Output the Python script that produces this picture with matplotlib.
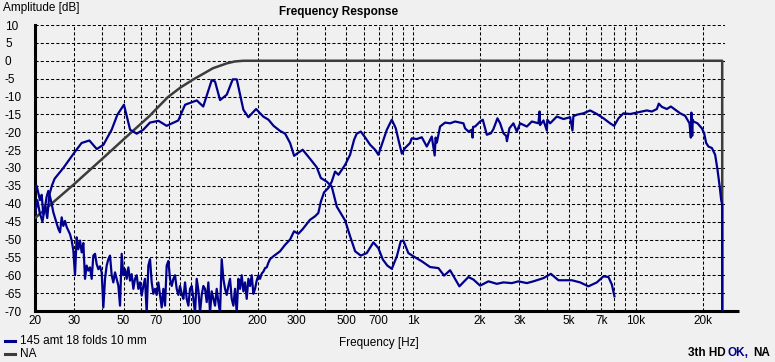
import numpy as np
import matplotlib
matplotlib.use('Agg')
import matplotlib.pyplot as plt
from matplotlib.lines import Line2D

# Curve A: low driver side (falls off above ~200 Hz)
a_freq = [20, 20.5, 21, 21.6, 22.2, 22.7, 23.2, 23.8, 24.5, 26.8, 30.2, 32.4, 35.1, 37.9,
          40.6, 44.2, 46.9, 50.2, 53.5, 57.3, 61.3, 65.7, 71.7, 78.1, 88.1, 90.3, 94.5,
          106.6, 114, 124.5, 128.8, 135.7, 145.4, 154.7, 161.3, 172.7, 181.9, 197, 212,
          224, 236, 252, 266, 280, 292, 305, 319, 344, 369, 385, 409, 431, 454, 495, 521,
          549, 582, 619, 663, 698, 731, 766, 802, 845, 880, 904, 952, 1003, 1094, 1192,
          1299, 1378, 1466, 1614, 1772, 1866, 2000, 2180, 2377, 2546, 2777, 2973, 3243,
          3473, 3852, 4158, 4498, 5167, 5630, 6135, 6693, 7167, 7546, 7817, 8030]
a_db = [-43, -39, -42.5, -45, -40.5, -44, -37.5, -35, -33, -30, -25.5, -23, -22.3, -24.7,
        -23.5, -19.3, -15.1, -12.3, -19.3, -20.4, -19.3, -17.3, -16.8, -18.2, -16.7, -15.1,
        -12.3, -11.1, -12.8, -5.4, -5.8, -11, -9.5, -5.2, -5.2, -13.7, -15.8, -13.5, -15.6,
        -16.5, -18.2, -19.6, -20.4, -23, -26.6, -25.7, -24.9, -27.4, -29.8, -32.8, -33.8,
        -35.2, -40.8, -44.7, -49.1, -53.3, -54.5, -53.8, -50.8, -52.4, -55.6, -57.3, -58.2,
        -54.7, -50.5, -50.3, -53.8, -54.7, -56.1, -57.7, -58, -60.1, -58.6, -63.1, -60.5,
        -61.2, -62.9, -61.7, -62.4, -62, -62.2, -61.7, -62.2, -61.7, -60.8, -59.6, -61.4,
        -61.4, -62, -63.1, -62, -60.3, -60.5, -62.6, -65.9]

# Curve B: high driver side, noise floor read on a log grid from 20 to 228 Hz
b_floor_lo, b_floor_hi = 20, 227.6
b_floor_db = [-36, -35, -37, -39, -37.5, -43, -41, -38, -36.4, -38, -40, -42.4, -44, -45.5,
              -47, -48, -43.8, -46.2, -44.8, -46.5, -47.5, -48.5, -50.3, -53.1, -60, -49.4,
              -52.7, -50.3, -53.6, -51, -61, -57.3, -58.7, -57.8, -61, -54.5, -54, -56.9,
              -58.3, -57.5, -59.2, -69, -61, -57.3, -55.5, -54.5, -60, -62, -59.2, -61,
              -62.9, -68.5, -54, -60, -58.3, -61, -57.8, -61.5, -59.7, -63.8, -61, -60,
              -63.8, -62, -65.7, -63, -61, -70.5, -57.3, -55.5, -62, -65.2, -63.8, -65.5,
              -62, -65.5, -69, -63.8, -68.5, -57.3, -56, -61, -63, -61, -60, -63.8, -65.5,
              -63, -65.2, -66.6, -62, -66.6, -68.5, -63.8, -63, -66.6, -70.5, -61, -64.2,
              -70.5, -65.5, -63, -63.8, -67.5, -62, -70.5, -64.5, -66.6, -68.5, -63.8, -67.5,
              -70.5, -55.5, -61, -63.8, -65.5, -63, -61, -66.6, -68.5, -63.8, -70.5, -61,
              -63.8, -60, -64.5, -62, -66.6, -61, -63, -60, -65.2, -63.8, -61.5, -60, -61,
              -59.5, -59, -58, -57.8, -56.5, -55.5]
b_freq = [235.6, 252.4, 265.8, 280, 291.8, 305, 319, 344, 362.6, 375, 385, 398, 416, 431,
          446, 462, 495, 521, 543, 558, 582, 608, 641, 675, 698, 723, 762, 802, 836, 859,
          890, 920, 969, 986, 1039, 1094, 1152, 1213, 1250, 1262, 1278, 1322, 1392, 1466,
          1544, 1626, 1683, 1712, 1772, 1836, 1850, 1860, 1899, 2000, 2056, 2144, 2235,
          2296, 2393, 2460, 2546, 2618, 2640, 2708, 2823, 2924, 3026, 3243, 3416, 3656,
          3700, 3720, 3852, 3990, 4010, 4128, 4424, 4737, 5076, 5200, 5250, 5441, 5826,
          6243, 6693, 7167, 7678, 8004, 8370, 8816, 9446, 10122, 10660, 11228, 11822, 12452,
          12700, 13112, 13808, 14392, 15204, 15848, 16688, 17450, 17700, 17800, 17950, 18050,
          18188, 18952, 19834, 20312, 20736, 21238, 22000, 22760, 23320, 23800, 24220,
          24480, 24500]
b_db = [-54.7, -53.3, -51.5, -50, -47.7, -48.4, -47.1, -44.5, -43.5, -42.6, -39.4, -36.8,
        -35.6, -33.8, -31, -31.9, -29.1, -26.3, -22.1, -20.4, -19.8, -21.4, -23.5, -24.9,
        -26.3, -23.5, -19.3, -16.5, -18.9, -22.1, -26, -24.4, -23, -21.7, -21.9, -21.4, -24,
        -21.2, -26.5, -21.5, -22.9, -18.4, -17.3, -17.5, -17, -17.3, -17.5, -18.9, -19.8,
        -19.3, -21.5, -18.5, -18.4, -17, -16.5, -20.7, -20.3, -19.1, -16.1, -17.5, -20.3,
        -21, -22.5, -18.9, -17.5, -19.8, -17.5, -18.4, -17, -17.5, -14.2, -18, -16.7, -19.5,
        -16.5, -17.5, -15.6, -16.3, -15.8, -19.5, -15.5, -15.1, -14.7, -13.9, -14.9, -16.1,
        -17.5, -18.2, -16.1, -14.7, -14.9, -14.5, -14.2, -13.9, -14.2, -13.5, -12, -12.9,
        -13.5, -12.8, -13.9, -14.7, -15.4, -17.5, -21.5, -14.5, -21, -16.5, -17, -17.5,
        -18.9, -20.3, -23, -24, -24.4, -26.3, -30.5, -34.7, -38.9, -40.3, -80]

# NA: target high-pass curve
na_freq = [20, 30, 40, 50, 65, 79, 90, 103, 110, 126, 146, 158, 173, 24480, 24500]
na_db = [-44, -34.5, -27.5, -22, -15.6, -10.2, -7.5, -5.2, -4.2, -2.1, -0.7, -0.2, 0, 0, -80]

x_ticks = [20, 30, 40, 50, 60, 70, 80, 90, 100, 200, 300, 400, 500, 600, 700, 800, 900,
           1000, 2000, 3000, 4000, 5000, 6000, 7000, 8000, 9000, 10000, 20000]
x_labels = ['20', '30', '', '50', '', '70', '', '', '100', '200', '300', '', '500', '',
            '700', '', '', '1k', '2k', '3k', '', '5k', '', '7k', '', '', '10k', '20k']
y_ticks = list(range(-70, 11, 5))

bg = '#F0F0F0'
navy = '#00008C'
gray = '#3C3C3C'
W, H = 775, 362

plt.rcParams['font.family'] = ['Liberation Sans', 'DejaVu Sans']
fig = plt.figure(figsize=(W / 100, H / 100), dpi=100, facecolor=bg)
ax = fig.add_axes([35 / W, 51 / H, 690 / W, 286 / H], facecolor=bg)

b_all_freq = list(np.geomspace(b_floor_lo, b_floor_hi, len(b_floor_db))) + b_freq
b_all_db = b_floor_db + b_db

ax.plot(na_freq, na_db, color=gray, lw=1.8, zorder=3)
ax.plot(a_freq, a_db, color=navy, lw=1.6, zorder=4)
ax.plot(b_all_freq, b_all_db, color=navy, lw=1.6, zorder=4)

ax.set_xscale('log')
ax.set_xlim(20, 25200)
ax.set_ylim(-70, 10)
ax.set_xticks(x_ticks, labels=x_labels)
ax.xaxis.set_minor_locator(matplotlib.ticker.NullLocator())
ax.set_yticks(y_ticks, labels=[str(v) for v in y_ticks])
ax.grid(True, color='black', lw=0.75, linestyle=(0, (3, 2)), zorder=1)
ax.set_axisbelow(True)

ax.tick_params(axis='x', length=0, pad=3, labelsize=8.5)
ax.tick_params(axis='y', length=0, pad=21.6, labelsize=8.5)
for lab in ax.get_yticklabels():
    lab.set_ha('left')

for side in ['top', 'right']:
    ax.spines[side].set_visible(False)
for side in ['left', 'bottom']:
    ax.spines[side].set_linewidth(2.2)
    ax.spines[side].set_color('black')
# bottom axis runs a bit past the plot area
ax.plot([1, 1 + 14 / 690], [0, 0], transform=ax.transAxes, color='black', lw=2.2,
        clip_on=False, solid_capstyle='butt')

fig.text(3 / W, 1 - 8 / H, 'Amplitude [dB]', fontsize=8.5, va='center', ha='left')
fig.text(339 / W, 1 - 12 / H, 'Frequency Response', fontsize=8.5, fontweight='bold',
         va='center', ha='center')
fig.text(379 / W, 1 - 343 / H, 'Frequency [Hz]', fontsize=8.5, va='center', ha='center')

# legend
fig.add_artist(Line2D([5 / W, 15 / W], [1 - 341 / H] * 2, color=navy, lw=2.2))
fig.text(20 / W, 1 - 341 / H, '145 amt 18 folds 10 mm', fontsize=8.5, va='center')
fig.add_artist(Line2D([5 / W, 15 / W], [1 - 354 / H] * 2, color=gray, lw=2.2))
fig.text(20 / W, 1 - 354 / H, 'NA', fontsize=8.5, va='center')

fig.text(688 / W, 1 - 353 / H, '3th HD', fontsize=8.5, fontweight='bold', va='center')
fig.text(727 / W, 1 - 353 / H, 'OK,', fontsize=8.5, fontweight='bold', va='center',
         color=navy)
fig.text(753 / W, 1 - 353 / H, 'NA', fontsize=8.5, fontweight='bold', va='center')

fig.savefig('out.png', dpi=100, facecolor=bg)
